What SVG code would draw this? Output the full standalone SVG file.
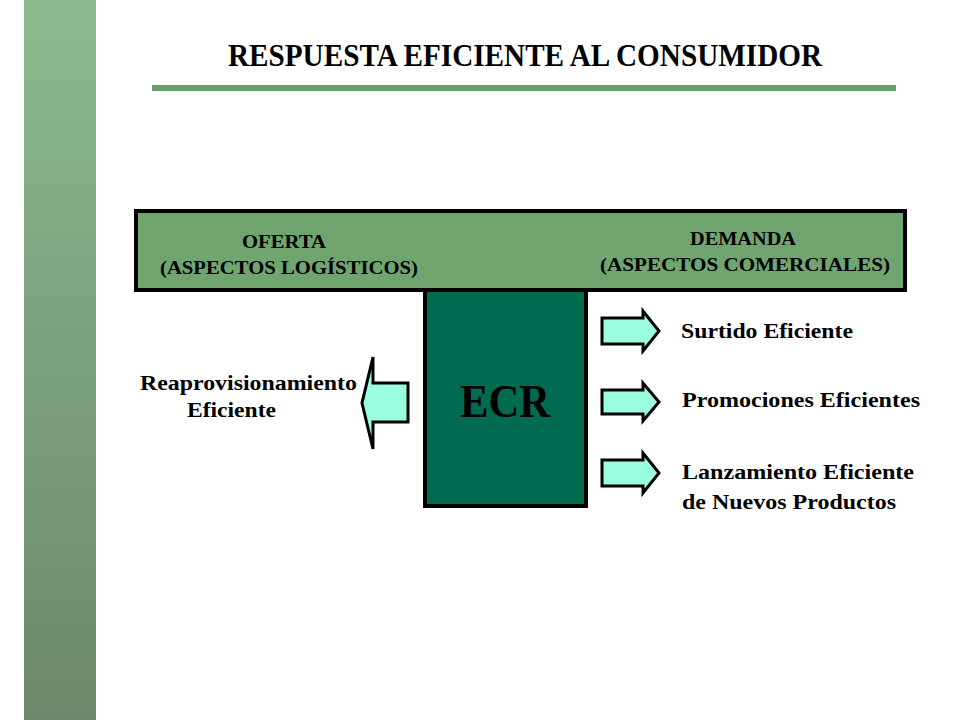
<svg xmlns="http://www.w3.org/2000/svg" width="960" height="720" viewBox="0 0 960 720">
<defs>
<linearGradient id="side" x1="0" y1="0" x2="0" y2="1">
<stop offset="0" stop-color="#8dba8d"/>
<stop offset="1" stop-color="#6a896a"/>
</linearGradient>
</defs>
<style>
text{font-family:"Liberation Serif","Times New Roman",serif;font-weight:bold;fill:#000}
.hdr{font-size:19px}
.lbl{font-size:20px}
.arrow{fill:#99ffe0;stroke:#000;stroke-width:3;stroke-linejoin:miter}
</style>
<rect width="960" height="720" fill="#ffffff"/>
<rect x="24" y="0" width="72" height="720" fill="url(#side)"/>
<text x="228" y="66" font-size="32" textLength="594" lengthAdjust="spacingAndGlyphs">RESPUESTA EFICIENTE AL CONSUMIDOR</text>
<rect x="152" y="85" width="744" height="6" fill="#6aa06a"/>
<g id="barra">
<rect x="136" y="211" width="769" height="79" fill="#70a570" stroke="#000" stroke-width="4"/>
<text class="hdr" x="242" y="248" textLength="84" lengthAdjust="spacingAndGlyphs">OFERTA</text>
<text class="hdr" x="160" y="274" textLength="258" lengthAdjust="spacingAndGlyphs">(ASPECTOS LOGÍSTICOS)</text>
<text class="hdr" x="690" y="245" textLength="106" lengthAdjust="spacingAndGlyphs">DEMANDA</text>
<text class="hdr" x="600" y="271" textLength="290" lengthAdjust="spacingAndGlyphs">(ASPECTOS COMERCIALES)</text>
</g>
<g id="ecr">
<rect x="425" y="290" width="161" height="216" fill="#006b4f" stroke="#000" stroke-width="4"/>
<text x="505" y="417" font-size="46" text-anchor="middle" textLength="90" lengthAdjust="spacingAndGlyphs">ECR</text>
</g>
<g id="conectores">
<polygon class="arrow" points="408,383 373,383 373,357 362,403 373,449 373,422 408,422"/>
<polygon class="arrow" points="602,318 643,318 643,311 659,331 643,351 643,344 602,344"/>
<polygon class="arrow" points="602,390 643,390 643,383 659,402 643,421 643,414 602,414"/>
<polygon class="arrow" points="602,460 643,460 643,453 659,473 643,493 643,486 602,486"/>
</g>
<g id="reaprovisionamiento">
<text class="lbl" x="140" y="390" textLength="217" lengthAdjust="spacingAndGlyphs">Reaprovisionamiento</text>
<text class="lbl" x="187" y="417" textLength="89" lengthAdjust="spacingAndGlyphs">Eficiente</text>
</g>
<g id="surtido">
<text class="lbl" x="681" y="338" textLength="172" lengthAdjust="spacingAndGlyphs">Surtido Eficiente</text>
</g>
<g id="promociones">
<text class="lbl" x="682" y="407" textLength="238" lengthAdjust="spacingAndGlyphs">Promociones Eficientes</text>
</g>
<g id="lanzamiento">
<text class="lbl" x="682" y="479" textLength="232" lengthAdjust="spacingAndGlyphs">Lanzamiento Eficiente</text>
<text class="lbl" x="682" y="509" textLength="214" lengthAdjust="spacingAndGlyphs">de Nuevos Productos</text>
</g>
</svg>
